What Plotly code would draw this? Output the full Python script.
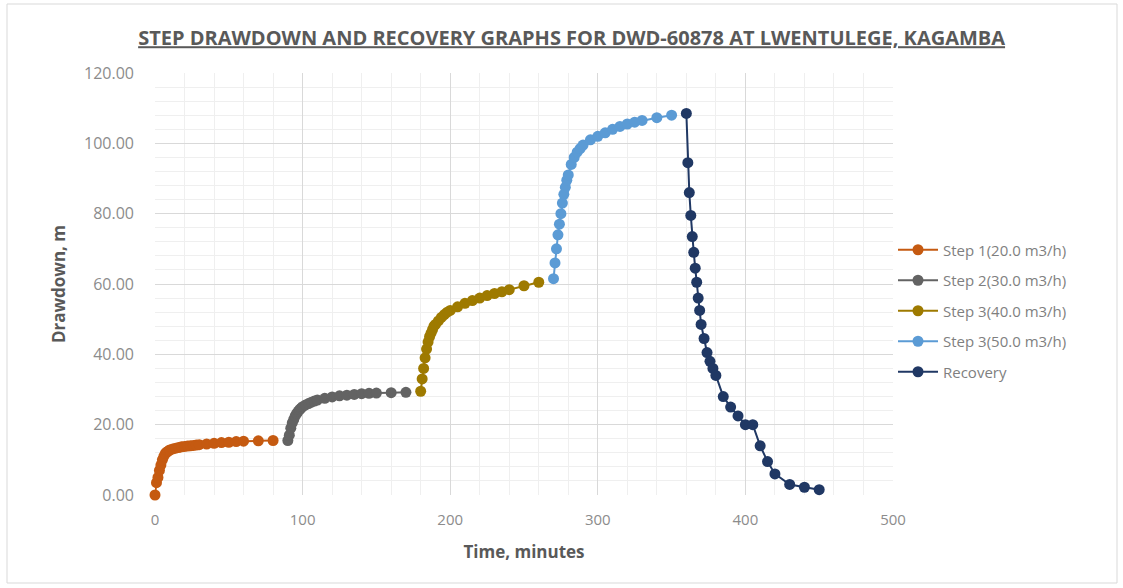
import plotly.graph_objects as go

# ---- Data ----
step1_t = [0, 1, 2, 3, 4, 5, 6, 7, 8, 9, 10, 12, 14, 16, 18, 20, 22, 24, 26, 28, 30, 35, 40, 45, 50, 55, 60, 70, 80]
step1_d = [0.0, 3.5, 5.0, 7.0, 8.5, 10.0, 11.0, 11.8, 12.2, 12.5, 12.8, 13.1, 13.3, 13.5, 13.7, 13.8, 13.9, 14.0,
           14.1, 14.2, 14.3, 14.5, 14.7, 14.9, 15.0, 15.2, 15.3, 15.4, 15.5]

step2_t = [90, 91, 92, 93, 94, 95, 96, 97, 98, 99, 100, 102, 104, 106, 108, 110, 115, 120, 125, 130, 135, 140,
           145, 150, 160, 170]
step2_d = [15.5, 17.0, 19.0, 20.5, 21.5, 22.5, 23.2, 23.8, 24.3, 24.7, 25.1, 25.6, 26.0, 26.4, 26.7, 27.0, 27.5,
           27.9, 28.2, 28.4, 28.6, 28.8, 28.9, 29.0, 29.1, 29.2]

step3_t = [180, 181, 182, 183, 184, 185, 186, 187, 188, 189, 190, 192, 194, 196, 198, 200, 205, 210, 215, 220,
           225, 230, 235, 240, 250, 260]
step3_d = [29.5, 33.0, 36.0, 39.0, 41.5, 43.5, 45.0, 46.0, 47.0, 48.0, 48.5, 49.5, 50.5, 51.3, 52.0, 52.5, 53.5,
           54.5, 55.3, 56.0, 56.7, 57.3, 57.8, 58.4, 59.5, 60.5]

step4_t = [270, 271, 272, 273, 274, 275, 276, 277, 278, 279, 280, 282, 284, 286, 288, 290, 295, 300, 305, 310,
           315, 320, 325, 330, 340, 350]
step4_d = [61.5, 66.0, 70.0, 74.0, 77.0, 80.0, 83.0, 85.5, 87.5, 89.5, 91.0, 94.0, 96.0, 97.5, 98.5, 99.5,
           101.0, 102.0, 103.0, 104.0, 104.8, 105.5, 106.0, 106.5, 107.3, 108.0]

rec_t = [360, 361, 362, 363, 364, 365, 366, 367, 368, 369, 370, 372, 374, 376, 378, 380, 385, 390, 395, 400,
         405, 410, 415, 420, 430, 440, 450]
rec_d = [108.5, 94.5, 86.0, 79.5, 73.5, 69.0, 64.5, 60.5, 56.0, 52.5, 48.5, 44.5, 40.5, 38.0, 36.0, 34.0, 28.0,
         25.0, 22.5, 20.0, 20.0, 14.0, 9.5, 6.0, 3.0, 2.2, 1.5]

series_names = ["Step 1(20.0 m3/h)", "Step 2(30.0 m3/h)", "Step 3(40.0 m3/h)", "Step 3(50.0 m3/h)", "Recovery"]
series_colors = ["#C55A11", "#636363", "#9E7A00", "#5B9BD5", "#203864"]

x_ticks = [0, 100, 200, 300, 400, 500]
y_ticks = [0, 20, 40, 60, 80, 100, 120]

title_text = "STEP DRAWDOWN AND RECOVERY GRAPHS FOR DWD-60878 AT LWENTULEGE, KAGAMBA"

fig = go.Figure()
all_series = [(step1_t, step1_d), (step2_t, step2_d), (step3_t, step3_d), (step4_t, step4_d), (rec_t, rec_d)]
for (t, d), name, col in zip(all_series, series_names, series_colors):
    fig.add_trace(go.Scatter(
        x=t, y=d, name=name, mode="lines+markers",
        line=dict(color=col, width=2),
        marker=dict(color=col, size=11),
        legendgroup=name, cliponaxis=False,
    ))

font_family = "'Open Sans', Lato, sans-serif"

fig.update_layout(
    width=1123, height=588,
    paper_bgcolor="white", plot_bgcolor="white",
    margin=dict(l=155, r=230, t=73, b=93),
    font=dict(family=font_family, color="#595959", size=15),
    title=dict(text="<b><u>" + title_text + "</u></b>", x=0.509, xanchor="center", y=0.935, yanchor="middle",
               font=dict(size=20, color="#595959", family=font_family)),
    legend=dict(x=1.0, xanchor="left", y=(495 - 311) / 422, yanchor="middle", tracegroupgap=8,
                font=dict(size=15, color="#7f7f7f"), bgcolor="rgba(0,0,0,0)", itemwidth=40),
    showlegend=True,
)

fig.update_xaxes(
    range=[0, 500], tickvals=x_ticks, ticktext=[str(v) for v in x_ticks],
    showgrid=True, gridcolor="#d9d9d9", gridwidth=1,
    minor=dict(dtick=20, showgrid=True, gridcolor="#efefef", gridwidth=1),
    zeroline=False, showline=False, ticks="",
    tickfont=dict(size=15, color="#8c8c8c"), ticklabelstandoff=14,
    title=dict(text="<b>Time, minutes</b>", font=dict(size=17, color="#595959"), standoff=18),
)
fig.update_yaxes(
    range=[0, 120], tickvals=y_ticks, ticktext=[f"{v:.2f}" for v in y_ticks],
    showgrid=True, gridcolor="#d9d9d9", gridwidth=1,
    minor=dict(dtick=4, showgrid=True, gridcolor="#efefef", gridwidth=1),
    zeroline=False, showline=False, ticks="",
    tickfont=dict(size=16, color="#8c8c8c"), ticklabelstandoff=20,
    title=dict(text="<b>Drawdown, m</b>", font=dict(size=17, color="#595959"), standoff=14),
)

# chart area border
fig.add_shape(type="rect", xref="paper", yref="paper",
              x0=(7 - 155) / 738, x1=(1117 - 155) / 738,
              y0=(495 - 583) / 422, y1=(495 - 4) / 422,
              line=dict(color="#d9d9d9", width=1), fillcolor="rgba(0,0,0,0)", layer="below")

fig.write_html("out.html")
